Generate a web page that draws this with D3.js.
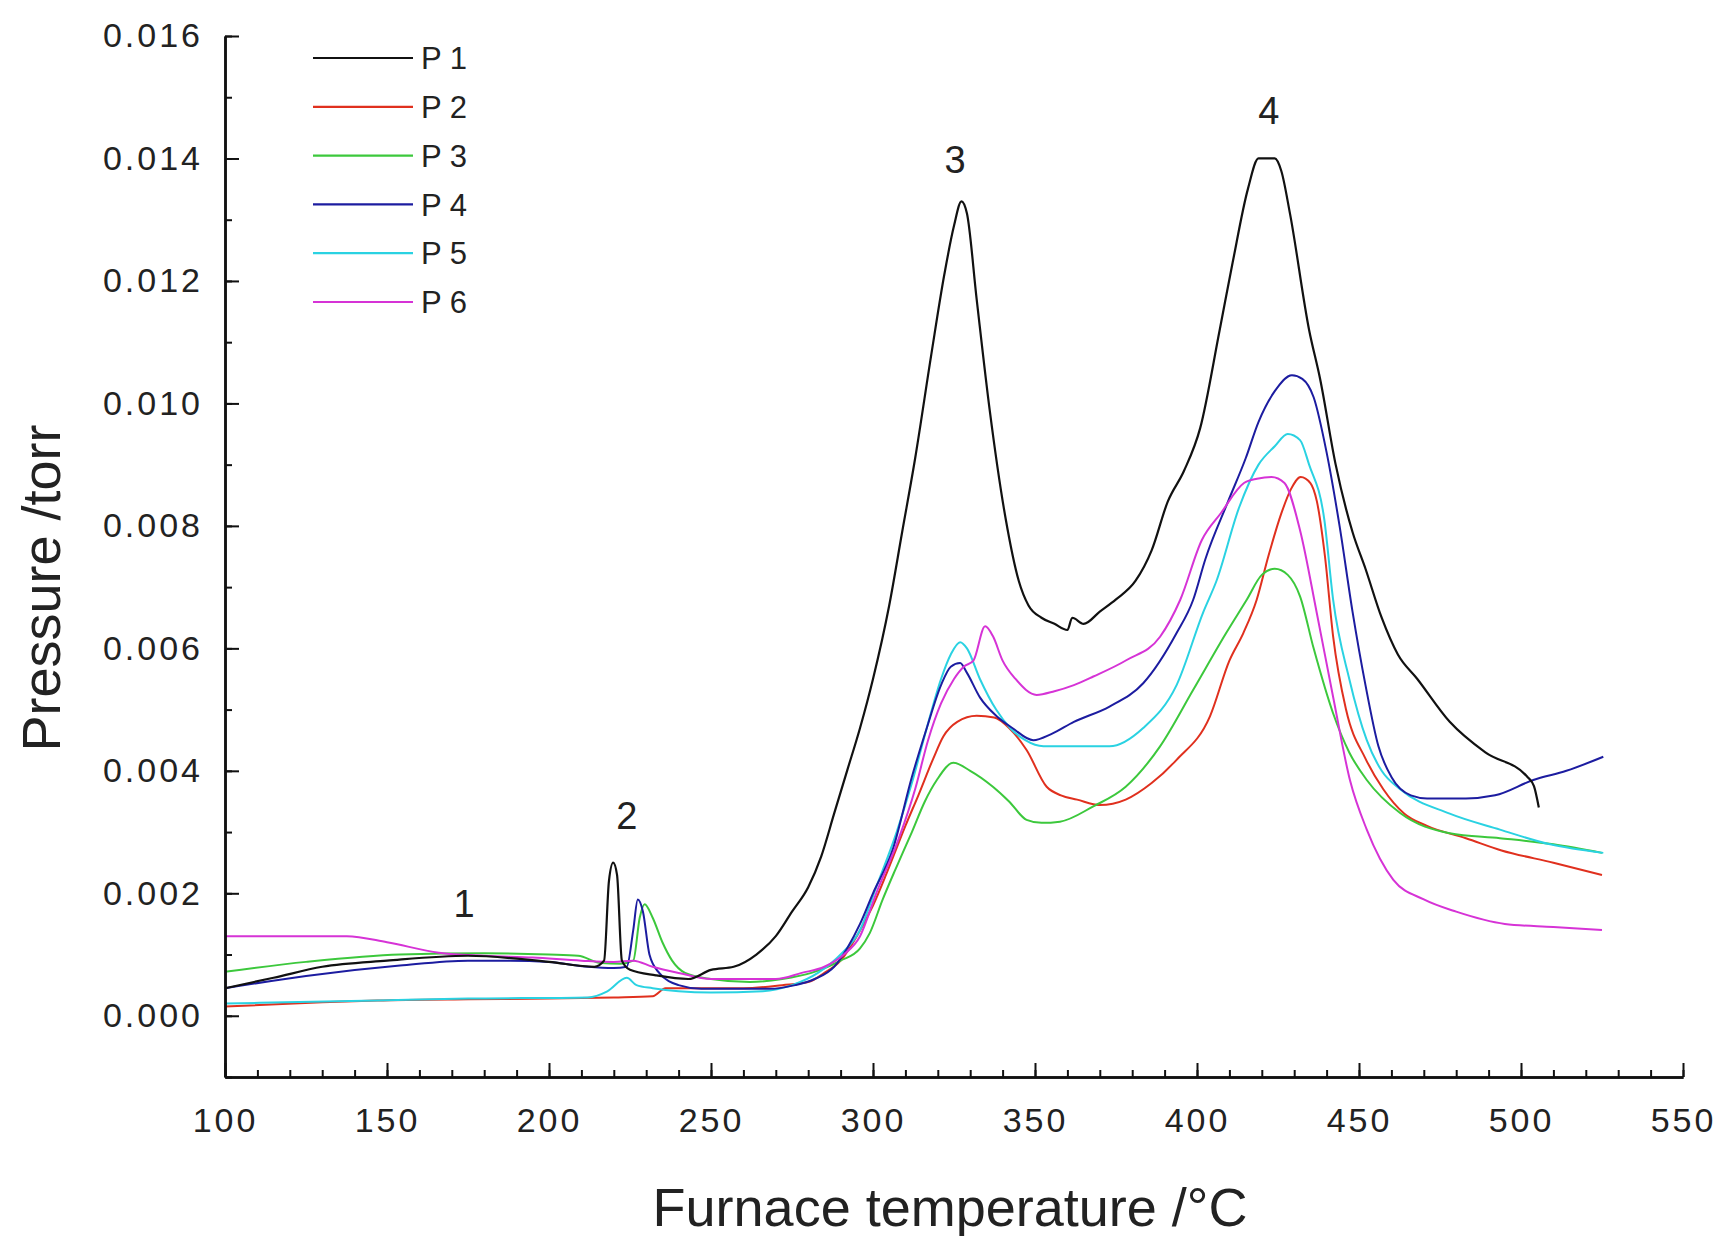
<!DOCTYPE html>
<html>
<head>
<meta charset="utf-8">
<script src="https://cdn.jsdelivr.net/npm/d3@7"></script>
<style>
  html, body { margin: 0; padding: 0; background: #fff; }
  svg { display: block; }
  text { font-family: "Liberation Sans", Arial, sans-serif; fill: #222; }
</style>
</head>
<body>
<svg id="chart" width="1715" height="1236"></svg>
<script>
// ---------------- DATA ----------------
const seriesNames = ["P 1", "P 2", "P 3", "P 4", "P 5", "P 6"];
const seriesColors = ["#111111", "#e0301e", "#3cc83c", "#1c1ca0", "#2ad2e2", "#d633d6"];

const xTicks = [100, 150, 200, 250, 300, 350, 400, 450, 500, 550];
const yTicks = [0.000, 0.002, 0.004, 0.006, 0.008, 0.010, 0.012, 0.014, 0.016];
const yTickLabels = ["0.000", "0.002", "0.004", "0.006", "0.008", "0.010", "0.012", "0.014", "0.016"];

const peakLabels = ["1", "2", "3", "4"];
const peakLabelT = [173.8, 224, 325.3, 422.2];
const peakLabelP = [0.00184, 0.00328, 0.01399, 0.01479];

// [temperature °C, pressure torr]
const P1 = [[100,0.00045],[115,0.00062],[130,0.0008],[150,0.0009],[175,0.00098],[200,0.00088],[214,0.0008],[217,0.0009],[218.5,0.0022],[219.8,0.0025],[221,0.0023],[222.5,0.0009],[225,0.00075],[233,0.00066],[243,0.0006],[250,0.00075],[257,0.0008],[264,0.001],[270,0.0013],[275,0.0017],[280,0.0021],[284,0.0026],[288,0.0033],[292,0.0040],[296,0.0047],[300,0.0055],[305,0.0067],[309,0.0079],[313,0.0091],[318,0.0108],[322,0.0121],[325,0.0129],[327.3,0.0133],[329,0.0131],[332,0.0117],[336,0.0099],[341,0.0081],[345,0.0071],[348,0.0067],[352,0.0065],[356,0.0064],[360,0.0063],[361.5,0.0065],[365,0.0064],[370,0.0066],[375,0.0068],[381,0.0071],[386,0.0076],[391,0.0084],[396,0.0089],[401,0.0096],[407,0.0112],[411,0.0123],[415.7,0.0135],[419,0.0140],[424,0.0140],[426,0.0138],[428.7,0.0131],[434.6,0.0112],[438,0.0104],[442.8,0.0090],[448,0.0079],[452,0.0073],[457,0.0065],[462,0.0059],[468,0.0055],[478,0.0048],[489,0.0043],[502,0.0039],[504,0.00375],[505.5,0.0034]];

const P2 = [[100,0.00015],[130,0.00022],[147,0.00025],[175,0.00027],[200,0.00028],[220,0.0003],[232,0.00032],[236,0.00045],[245,0.00045],[260,0.00045],[272,0.0005],[280,0.00055],[285,0.0007],[290,0.0009],[295,0.0013],[300,0.0018],[304,0.0023],[307,0.0027],[310,0.0031],[314,0.0036],[318.6,0.0042],[321.7,0.00456],[326,0.0048],[332,0.0049],[337.4,0.00487],[342,0.0047],[347.4,0.00434],[353.6,0.00374],[358,0.0036],[363,0.00353],[370,0.00344],[378,0.00353],[386,0.0038],[393.7,0.00418],[404,0.00489],[410,0.0058],[414.3,0.00625],[418.4,0.00679],[422,0.0075],[426,0.0082],[429,0.0086],[432,0.0088],[435,0.0087],[437,0.0084],[439.5,0.0075],[442,0.0062],[446,0.0050],[452,0.0042],[457.5,0.0037],[464,0.0033],[471,0.0031],[483,0.0029],[494,0.0027],[510,0.0025],[525,0.0023]];

const P3 = [[100,0.00072],[125,0.00088],[154,0.001],[180,0.00102],[200,0.001],[209,0.00098],[216,0.00086],[222,0.00085],[226,0.0009],[228,0.0016],[229.5,0.00182],[232,0.0016],[235,0.0012],[238,0.0009],[242,0.0007],[250,0.0006],[262,0.00055],[272,0.0006],[281,0.0007],[290,0.0009],[296,0.0011],[299,0.00135],[303,0.0019],[307,0.0024],[312,0.003],[316,0.0035],[319.7,0.00385],[324.8,0.00413],[330,0.004],[337,0.00374],[342,0.0035],[347.4,0.0032],[352,0.00315],[357.7,0.00317],[368,0.00342],[378,0.00374],[388.6,0.0044],[398.8,0.00532],[409,0.00625],[415.3,0.00679],[420,0.0072],[424,0.0073],[428,0.0072],[431.8,0.00685],[436,0.0060],[442,0.00494],[447,0.0043],[452.4,0.00385],[462.7,0.00331],[478,0.00298],[493.5,0.0029],[510,0.0028],[525,0.00266]];

const P4 = [[100,0.00045],[125,0.00065],[154,0.00082],[175,0.0009],[188,0.0009],[200,0.00088],[212,0.0008],[220,0.00078],[224,0.0008],[226,0.0014],[227.4,0.0019],[229,0.0017],[231,0.001],[234,0.0007],[240,0.0005],[247,0.00044],[268,0.00044],[276,0.0005],[282,0.0006],[288,0.0008],[292,0.0011],[296,0.0015],[300,0.0020],[306,0.0027],[312,0.0039],[316.6,0.0047],[321,0.0054],[324,0.0057],[326.9,0.00576],[329,0.0056],[333,0.0052],[338,0.0049],[343,0.0047],[349.5,0.0045],[355,0.0046],[362,0.0048],[373,0.00505],[383.4,0.00543],[393.7,0.00625],[398.8,0.00679],[402.6,0.00746],[409.6,0.0084],[415,0.0091],[419,0.0097],[424,0.0102],[429.3,0.01046],[432.5,0.0104],[436,0.0101],[440,0.0092],[444,0.0080],[448,0.0066],[452,0.0054],[456,0.0044],[460,0.0039],[466,0.0036],[471,0.00355],[483,0.00355],[492,0.0036],[503.8,0.00385],[514,0.004],[525.4,0.00423]];

const P5 = [[100,0.0002],[147,0.00025],[175,0.00028],[212,0.0003],[218,0.0004],[224,0.00062],[227,0.0005],[232,0.00045],[240,0.0004],[250,0.00038],[266,0.0004],[275,0.0005],[283,0.0007],[290,0.001],[296,0.0014],[301,0.0021],[307.3,0.003],[312,0.0038],[316.6,0.0047],[321,0.0055],[324,0.0059],[326.9,0.0061],[329,0.0060],[333,0.0055],[338,0.0050],[342.3,0.0047],[347,0.0045],[352.6,0.0044],[365,0.0044],[373,0.0044],[383.4,0.0047],[393.7,0.0054],[402,0.0066],[406,0.0071],[413,0.0083],[419,0.009],[424,0.0093],[428,0.0095],[431.8,0.0094],[434.6,0.009],[439.3,0.0081],[442,0.0068],[447,0.0055],[452.4,0.0045],[457,0.004],[462.7,0.0037],[478,0.0033],[493.5,0.00304],[509,0.0028],[525.4,0.00266]];

const P6 = [[100,0.0013],[137.6,0.0013],[150,0.0012],[166,0.00103],[180,0.00098],[195,0.00095],[210,0.0009],[220,0.00088],[226,0.0009],[232,0.0008],[240,0.0007],[250,0.0006],[270,0.0006],[278,0.0007],[285,0.0008],[291,0.001],[296,0.0013],[301,0.002],[308,0.0029],[313,0.0037],[317,0.0045],[321,0.0051],[325,0.0055],[328,0.0057],[331,0.0058],[334.6,0.00636],[337,0.0062],[340,0.0058],[344,0.0055],[350.5,0.00524],[356,0.0053],[362,0.0054],[368,0.00554],[378.3,0.00581],[388.6,0.00619],[394.8,0.00679],[401.5,0.00777],[407.4,0.00821],[414.5,0.0087],[418.5,0.00877],[423,0.0088],[427,0.0087],[431.8,0.00793],[437,0.00657],[442,0.00521],[447.2,0.00385],[452.4,0.00304],[460.6,0.00222],[470,0.0019],[480,0.0017],[495,0.0015],[510,0.00145],[525,0.0014]];

const seriesData = [P1, P2, P3, P4, P5, P6];

// ---------------- CHART ----------------
const svg = d3.select("#chart");
const x = d3.scaleLinear().domain([100, 550]).range([225, 1683]);
const y = d3.scaleLinear().domain([-0.001, 0.016]).range([1077, 36]);

// curves
const line = d3.line().x(d => x(d[0])).y(d => y(d[1])).curve(d3.curveMonotoneX);
const order = [1, 2, 4, 3, 5, 0];
svg.append("g").selectAll("path").data(order).join("path")
  .attr("d", i => line(seriesData[i]))
  .attr("fill", "none")
  .attr("stroke", i => seriesColors[i])
  .attr("stroke-width", i => i === 0 ? 2.2 : 2)
  .attr("stroke-linejoin", "round");

// axes
const axisColor = "#111";
const yMinor = d3.range(-0.001, 0.0165, 0.001);
const xMinor = d3.range(100, 551, 10);

const gy = svg.append("g").attr("transform", `translate(${x(100)},0)`);
gy.call(d3.axisLeft(y).tickValues(yMinor).tickSize(-7).tickSizeOuter(0).tickFormat(""));
gy.append("g").call(d3.axisLeft(y).tickValues(yTicks).tickSize(-14).tickSizeOuter(0)
    .tickPadding(22).tickFormat((d, i) => yTickLabels[i]));

const gx = svg.append("g").attr("transform", `translate(0,${y(-0.001)})`);
gx.call(d3.axisBottom(x).tickValues(xMinor).tickSize(-7).tickSizeOuter(0).tickFormat(""));
gx.append("g").call(d3.axisBottom(x).tickValues(xTicks).tickSize(-14).tickSizeOuter(0)
    .tickPadding(31).tickFormat(d3.format("d")));

svg.selectAll(".domain").attr("stroke", axisColor).attr("stroke-width", 2.5);
svg.selectAll(".tick line").attr("stroke", axisColor).attr("stroke-width", 2);
svg.selectAll(".tick text")
  .style("font-family", "'Liberation Sans', Arial, sans-serif")
  .style("font-size", "34px").style("letter-spacing", "3px").attr("fill", "#222");

// axis titles
svg.append("text")
  .attr("x", 950).attr("y", 1226)
  .attr("text-anchor", "middle")
  .style("font-size", "54px")
  .text("Furnace temperature /°C");

svg.append("text")
  .attr("transform", "translate(60,588) rotate(-90)")
  .attr("text-anchor", "middle")
  .style("font-size", "54px")
  .text("Pressure /torr");

// peak labels
svg.append("g").selectAll("text").data(peakLabels).join("text")
  .attr("x", (d, i) => x(peakLabelT[i]))
  .attr("y", (d, i) => y(peakLabelP[i]))
  .attr("dy", "0.36em")
  .attr("text-anchor", "middle")
  .style("font-size", "38px")
  .text(d => d);

// legend
const legendTop = 58, legendStep = 48.8;
const lg = svg.append("g");
seriesNames.forEach((name, i) => {
  const yy = legendTop + i * legendStep;
  lg.append("line").attr("x1", 313).attr("x2", 413).attr("y1", yy).attr("y2", yy)
    .attr("stroke", seriesColors[i]).attr("stroke-width", 2.2);
  lg.append("text").attr("x", 421).attr("y", yy).attr("dy", "0.36em")
    .style("font-size", "31px").text(name);
});
</script>
</body>
</html>
